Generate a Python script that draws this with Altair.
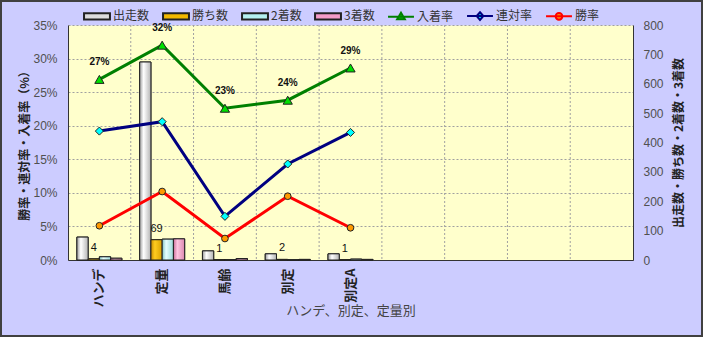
import altair as alt
import pandas as pd

# ---- data ----
categories = ["ハンデ", "定量", "馬齢", "別定", "別定A"]
empty_slots = ["空1", "空2", "空3", "空4"]          # unlabeled category slots on the axis
starts = [78, 674, 31, 21, 21]          # 出走数
wins = [4, 69, 1, 2, 1]                 # 勝ち数
seconds = [11, 71, 1, 1, 3]             # 2着数
thirds = [6, 72, 5, 2, 2]               # 3着数
place_rate = [0.269, 0.320, 0.226, 0.238, 0.286]   # 入着率
rentai_rate = [0.192, 0.206, 0.065, 0.143, 0.190]  # 連対率
win_rate = [0.051, 0.102, 0.032, 0.095, 0.048]     # 勝率
left_ticks = [0, 0.05, 0.10, 0.15, 0.20, 0.25, 0.30, 0.35]
right_ticks = [0, 100, 200, 300, 400, 500, 600, 700, 800]

bar_series = ["出走数", "勝ち数", "2着数", "3着数"]
rate_series = ["入着率", "連対率", "勝率"]
all_series = bar_series + rate_series
slots = categories + empty_slots

# ---- styles ----
fill_colors = ["#DCDCDC", "#F2B800", "#B4F0F0", "#F49CC8", "#00E000", "#00FFFF", "#FF9900"]
stroke_colors = ["#222222", "#222222", "#222222", "#222222", "#008000", "#000080", "#FF0000"]
bar_gradients = [
    ["#9C9C9C", "#FFFFFF", "#B4B4B4"],
    ["#C88C00", "#FFCC20", "#D9A000"],
    ["#80C4C4", "#E6FFFF", "#9CDADA"],
    ["#C86C98", "#FFC4E0", "#DC88B0"],
]
marker_shapes = ["triangle-up", "diamond", "circle"]
marker_sizes = [85, 45, 60]
JP = "Noto Sans CJK JP"
NUM = "Liberation Sans"

bars_df = pd.DataFrame(
    [{"slot": c, "series": s, "value": v}
     for s, vals in zip(bar_series, [starts, wins, seconds, thirds])
     for c, v in zip(categories, vals)]
)
rates_df = pd.DataFrame(
    [{"slot": c, "series": s, "rate": v}
     for s, vals in zip(rate_series, [place_rate, rentai_rate, win_rate])
     for c, v in zip(categories, vals)]
)
grid_df = pd.DataFrame({"slot": slots[1:]})

fill_scale = alt.Scale(domain=all_series, range=fill_colors)
stroke_scale = alt.Scale(domain=all_series, range=stroke_colors)
x_scale = alt.Scale(domain=slots, paddingInner=0, paddingOuter=0)
hide_expr = "indexof(" + str(empty_slots) + ", datum.value) >= 0 ? '' : datum.label"

x_axis = alt.Axis(
    title="ハンデ、別定、定量別", labelAngle=-90, labelExpr=hide_expr,
    labelFont=JP, labelFontSize=13, labelFontWeight="bold", labelColor="#222222",
    labelPadding=8, ticks=False, grid=False, domainColor="#333333",
    titleFont=JP, titleFontSize=13, titleFontWeight="normal", titleColor="#444444",
    titleY=50, titleBaseline="middle",
)


def xenc(**kw):
    return alt.X("slot:N", sort=slots, scale=x_scale, axis=x_axis, **kw)


# legend symbols: bar swatches and line+marker swatches
bar_path = "M-1.12,-0.4H2.12V0.4H-1.12Z"
line_path = "M-1.12,0H2.12"
sym_paths = {
    "入着率": line_path + "M0.5,-0.5L0.98,0.32H0.02Z",
    "連対率": line_path + "M0.5,-0.48L0.92,0L0.5,0.48L0.08,0Z",
    "勝率": line_path + "M0.92,0A0.42,0.42,0,1,1,0.08,0A0.42,0.42,0,1,1,0.92,0Z",
}


def ternary(mapping, default):
    expr = "'" + default + "'"
    for k, v in mapping.items():
        expr = "datum.value === '" + k + "' ? '" + v + "' : (" + expr + ")"
    return expr


shape_expr = ternary(sym_paths, bar_path)
stroke_expr = ternary(dict(zip(all_series, stroke_colors)), "#222222")

legend = alt.Legend(
    title=None, orient="none", legendX=16, legendY=-18, direction="horizontal",
    symbolSize=256, symbolStrokeWidth=2, labelOffset=11, columnPadding=9, padding=0,
    labelFont=JP, labelFontSize=12, labelColor="#333333",
    symbolType=alt.ExprRef(expr=shape_expr),
    symbolStrokeColor=alt.ExprRef(expr=stroke_expr),
)

y_right = alt.Y(
    "value:Q", scale=alt.Scale(domain=[0, 800], nice=False),
    axis=alt.Axis(orient="right", values=right_ticks, grid=False, ticks=False,
                  labelPadding=10, labelFont=NUM, labelFontSize=12, labelColor="#505050",
                  domainColor="#333333",
                  title="出走数・勝ち数・2着数・3着数", titleAngle=270, titleX=45, titleY=117.5,
                  titleBaseline="middle", titleFont=JP, titleFontSize=12,
                  titleFontWeight="bold", titleColor="#222222"),
)
y_left = alt.Y(
    "rate:Q", scale=alt.Scale(domain=[0, 0.35], nice=False),
    axis=alt.Axis(orient="left", values=left_ticks, format=".0%", grid=True,
                  gridDash=[2, 2], gridColor="#A0A0A0", ticks=False, labelPadding=11,
                  labelFont=NUM, labelFontSize=12, labelColor="#505050",
                  domainColor="#333333",
                  title="勝率・連対率・入着率（%）", titleAngle=270, titleX=-44, titleY=117.5,
                  titleBaseline="middle", titleFont=JP, titleFontSize=12,
                  titleFontWeight="bold", titleColor="#222222"),
)

vgrid = alt.Chart(grid_df).mark_rule(strokeDash=[2, 2], color="#A0A0A0", strokeWidth=1).encode(
    x=xenc(bandPosition=0)
)

offset = alt.XOffset("series:N", sort=bar_series,
                     scale=alt.Scale(domain=bar_series, paddingInner=0, paddingOuter=0.79))

bars = alt.Chart(bars_df).mark_bar(stroke="#222222", strokeWidth=1).encode(
    x=xenc(), xOffset=offset, y=y_right,
    fill=alt.Fill("series:N", scale=fill_scale, legend=legend),
)

# cylinder-like shading over each bar series
shaded = []
for s, stops in zip(bar_series, bar_gradients):
    grad = alt.Gradient(
        gradient="linear", x1=0, x2=1, y1=0, y2=0,
        stops=[alt.GradientStop(offset=0, color=stops[0]),
               alt.GradientStop(offset=0.35, color=stops[1]),
               alt.GradientStop(offset=1, color=stops[2])],
    )
    shaded.append(
        alt.Chart(bars_df).transform_filter(alt.datum.series == s)
        .mark_bar(fill=grad, stroke="#222222", strokeWidth=1)
        .encode(x=xenc(), xOffset=offset, y=y_right)
    )

bar_labels = alt.Chart(bars_df).transform_filter(
    alt.datum.series == "勝ち数"
).mark_text(baseline="bottom", dy=-6, font=NUM, fontSize=11, color="#111111").encode(
    x=xenc(), xOffset=offset, y=y_right, text=alt.Text("value:Q"),
)

border = alt.Chart(alt.Data(values=[{}])).mark_rect(
    fill="transparent", stroke="#404040", strokeWidth=2
).encode(x=alt.value(-67), x2=alt.value(634), y=alt.value(-24), y2=alt.value(311))

bar_part = alt.layer(vgrid, bars, *shaded, bar_labels, border)

lines = alt.Chart(rates_df).mark_line(strokeWidth=3).encode(
    x=xenc(), y=y_left,
    stroke=alt.Stroke("series:N", scale=stroke_scale, legend=None),
)
points = alt.Chart(rates_df).mark_point(filled=True, opacity=1, stroke="#222222", strokeWidth=1).encode(
    x=xenc(), y=y_left,
    fill=alt.Fill("series:N", scale=fill_scale, legend=None),
    shape=alt.Shape("series:N", scale=alt.Scale(domain=rate_series, range=marker_shapes), legend=None),
    size=alt.Size("series:N", scale=alt.Scale(domain=rate_series, range=marker_sizes), legend=None),
)
rate_labels = alt.Chart(rates_df).transform_filter(
    alt.datum.series == "入着率"
).mark_text(baseline="bottom", dy=-12, font=NUM, fontSize=10, fontWeight="bold", color="#111111").encode(
    x=xenc(), y=y_left, text=alt.Text("rate:Q", format=".0%"),
)
line_part = alt.layer(lines, points, rate_labels)

chart = alt.layer(bar_part, line_part).resolve_scale(y="independent").properties(
    width=565, height=235,
    padding={"left": 68, "top": 25, "right": 70, "bottom": 77},
    autosize=alt.AutoSizeParams(type="none"),
    background="#CCCCFF",
).configure_view(fill="#FFFFCC", stroke="transparent")

chart.save("out.html", embed_options={"renderer": "svg", "actions": False})
